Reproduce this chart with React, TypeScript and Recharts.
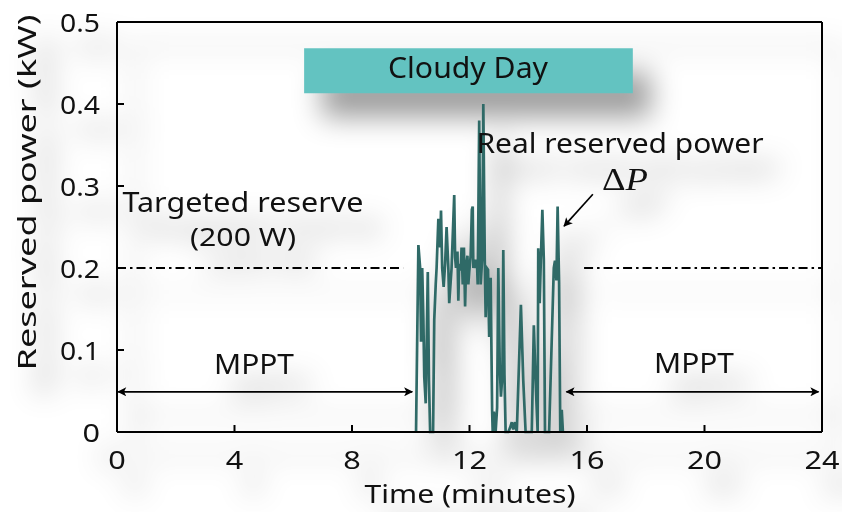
import React from 'react';
import { LineChart, Line, XAxis, YAxis, ReferenceLine, ReferenceArea } from 'recharts';

// ---- data (time in minutes, reserved power in kW) ----
const timeMin = [
  10.18, 10.26, 10.32, 10.35, 10.39, 10.43, 10.46, 10.51, 10.58, 10.62,
  10.66, 10.76, 10.80, 10.85, 10.88, 10.94, 11.00, 11.03, 11.07, 11.12,
  11.17, 11.22, 11.28, 11.31, 11.39, 11.48, 11.51, 11.54, 11.59, 11.62,
  11.65, 11.70, 11.73, 11.77, 11.81, 11.85, 11.88, 11.93, 11.96, 11.99,
  12.04, 12.08, 12.11, 12.13, 12.16, 12.20, 12.25, 12.28, 12.33, 12.38,
  12.43, 12.47, 12.52, 12.55, 12.59, 12.63, 12.67, 12.72, 12.77, 12.79,
  12.83, 12.89, 12.94, 12.98, 13.03, 13.07, 13.12, 13.15, 13.19, 13.23,
  13.32, 13.38, 13.44, 13.49, 13.55, 13.61, 13.75, 13.83, 13.91, 14.12,
  14.19, 14.25, 14.32, 14.34, 14.39, 14.43, 14.48, 14.53, 14.57, 14.71,
  14.87, 14.91, 14.96, 15.00, 15.05, 15.09, 15.14, 15.18,
];
const reservedKW = [
  0, 0.228, 0.2, 0.11, 0.2, 0.137, 0.067, 0.035, 0.195, 0.063,
  0, 0, 0.137, 0.18, 0.2, 0.26, 0.225, 0.27, 0.2, 0.177,
  0.205, 0.25, 0.2, 0.157, 0.2, 0.289, 0.213, 0.2, 0.22, 0.16,
  0.205, 0.197, 0.225, 0.18, 0.225, 0.153, 0.2, 0.215, 0.18, 0.195,
  0.215, 0.271, 0.275, 0.2, 0.21, 0.2, 0.21, 0.18, 0.38, 0.18,
  0.21, 0.4, 0.21, 0.14, 0.2, 0.198, 0.116, 0.188, 0.027, 0,
  0.025, 0, 0.03, 0.2, 0.08, 0.043, 0.07, 0.222, 0.07, 0,
  0, 0.005, 0.012, 0.003, 0.012, 0, 0.155, 0.063, 0, 0,
  0.13, 0.063, 0, 0.224, 0.157, 0.212, 0.271, 0.21, 0, 0,
  0.2, 0.209, 0.185, 0.275, 0.182, 0, 0.027, 0,
];
const xTicks = [0, 4, 8, 12, 16, 20, 24];
const xTickLabels = ['0', '4', '8', '12', '16', '20', '24'];
const yTicks = [0, 0.1, 0.2, 0.3, 0.4, 0.5];
const yTickLabels = ['0', '0.1', '0.2', '0.3', '0.4', '0.5'];

const targetKW = 0.2;
const targetSpans = [[0, 9.74], [15.9, 24]];
const mpptSpans = [[0.04, 10.05], [15.3, 23.88]];
const mpptArrowKW = 0.049;
const cloudyBox = { x1: 6.37, x2: 17.56, y1: 0.413, y2: 0.468 };
const deltaPArrow = [{ x: 16.2, y: 0.29 }, { x: 15.22, y: 0.251 }];

const data = timeMin.map((t, i) => ({ t, p: reservedKW[i] }));

const FONT = '"Noto Sans", "Open Sans", sans-serif';
const LINE_COLOR = '#2F6A67';
const INK = '#111';

// text stretched to a given advance width (the reference lettering is wide)
const WText = ({ x, y, w, size, anchor = 'middle', children, ...rest }: any) => {
  const x0 = anchor === 'middle' ? x - w / 2 : anchor === 'end' ? x - w : x;
  return (
    <text x={x0} y={y} fontSize={size} textLength={w} lengthAdjust="spacingAndGlyphs" {...rest}>
      {children}
    </text>
  );
};

const labelWidth = (s: string) => {
  let w = 0;
  for (const c of s) w += c === '.' ? 5 : 17.5;
  return w;
};

const XTick = (p: any) => {
  const idx = xTicks.indexOf(p.payload.value);
  const s = idx >= 0 ? xTickLabels[idx] : String(p.payload.value);
  return (
    <WText x={p.x} y={469} w={labelWidth(s)} size={26} fill={INK} fontFamily={FONT}>{s}</WText>
  );
};

const YTick = (p: any) => {
  const idx = yTicks.indexOf(p.payload.value);
  const s = idx >= 0 ? yTickLabels[idx] : String(p.payload.value);
  return (
    <WText x={p.x} y={p.y + 9.5} w={labelWidth(s)} size={26} anchor="end" fill={INK} fontFamily={FONT}>{s}</WText>
  );
};

const arrowShape = (start: boolean) => (p: any) => (
  <line
    x1={p.x1}
    y1={p.y1}
    x2={p.x2}
    y2={p.y2}
    stroke="#000"
    strokeWidth={1.7}
    markerStart={start ? 'url(#ah)' : undefined}
    markerEnd="url(#ah)"
  />
);

const AX = { stroke: '#000', strokeWidth: 2 };

export default function App() {
  return (
    <div style={{ position: 'absolute', left: 0, top: 0, width: 842, height: 512, background: '#fff' }}>
      <svg width={0} height={0} style={{ position: 'absolute' }}>
        <defs>
          <marker id="ah" viewBox="0 0 10 10" refX="9" refY="5" markerWidth="13" markerHeight="9"
            markerUnits="userSpaceOnUse" orient="auto-start-reverse">
            <path d="M0,0 L10,5 L0,10 L2.5,5 z" fill="#000" />
          </marker>
        </defs>
      </svg>
      <div style={{ position: 'absolute', left: 0, top: 0, filter: 'drop-shadow(18px 24px 14px rgba(0,0,0,0.38))' }}>
        <LineChart width={842} height={512} data={data} margin={{ top: 21, right: 19, bottom: 79, left: 116 }}>
          <ReferenceArea x1={cloudyBox.x1} x2={cloudyBox.x2} y1={cloudyBox.y1} y2={cloudyBox.y2}
            fill="#63C3C1" fillOpacity={1} stroke="none" />
          <XAxis dataKey="t" type="number" domain={[0, 24]} ticks={xTicks} height={1}
            tickSize={-7} tickMargin={10} axisLine={AX} tickLine={AX} interval={0}
            tick={<XTick />} allowDataOverflow />
          <XAxis xAxisId="top" orientation="top" dataKey="t" type="number" domain={[0, 24]} ticks={xTicks}
            height={1} tickSize={-7} tick={false} axisLine={AX} tickLine={AX} interval={0} />
          <YAxis type="number" domain={[0, 0.5]} ticks={yTicks} width={1} tickSize={-7} tickMargin={24}
            axisLine={AX} tickLine={AX} interval={0} tick={<YTick />} />
          <YAxis yAxisId="right" orientation="right" type="number" domain={[0, 0.5]} ticks={yTicks}
            width={1} tickSize={-7} tick={false} axisLine={AX} tickLine={AX} interval={0} />
          {targetSpans.map((s, i) => (
            <ReferenceLine key={'tg' + i} segment={[{ x: s[0], y: targetKW }, { x: s[1], y: targetKW }]}
              stroke="#000" strokeWidth={2} strokeDasharray="9 4 2.5 4" />
          ))}
          {mpptSpans.map((s, i) => (
            <ReferenceLine key={'mp' + i} segment={[{ x: s[0], y: mpptArrowKW }, { x: s[1], y: mpptArrowKW }]}
              shape={arrowShape(true)} />
          ))}
          <ReferenceLine segment={deltaPArrow} shape={arrowShape(false)} />
          <Line type="linear" dataKey="p" stroke={LINE_COLOR} strokeWidth={2.7} dot={false}
            isAnimationActive={false} />
        </LineChart>
        <svg width={842} height={512} style={{ position: 'absolute', left: 0, top: 0, pointerEvents: 'none' }}
          fontFamily={FONT} fill={INK}>
          <WText x={0} y={0} w={356} size={25} transform="translate(36 192.5) rotate(-90)">Reserved power (kW)</WText>
          <WText x={470} y={503} w={211} size={26}>Time (minutes)</WText>
          <WText x={468} y={78} w={160} size={29}>Cloudy Day</WText>
          <WText x={243} y={212} w={241} size={27}>Targeted reserve</WText>
          <WText x={243} y={246} w={106} size={26}>(200 W)</WText>
          <WText x={620} y={153} w={287} size={28}>Real reserved power</WText>
          <WText x={625} y={190} w={46} size={31} fontFamily='"Liberation Serif", serif'>
            Δ<tspan fontStyle="italic">P</tspan>
          </WText>
          <WText x={254} y={374} w={80} size={28}>MPPT</WText>
          <WText x={694} y={373} w={80} size={28}>MPPT</WText>
        </svg>
      </div>
    </div>
  );
}
